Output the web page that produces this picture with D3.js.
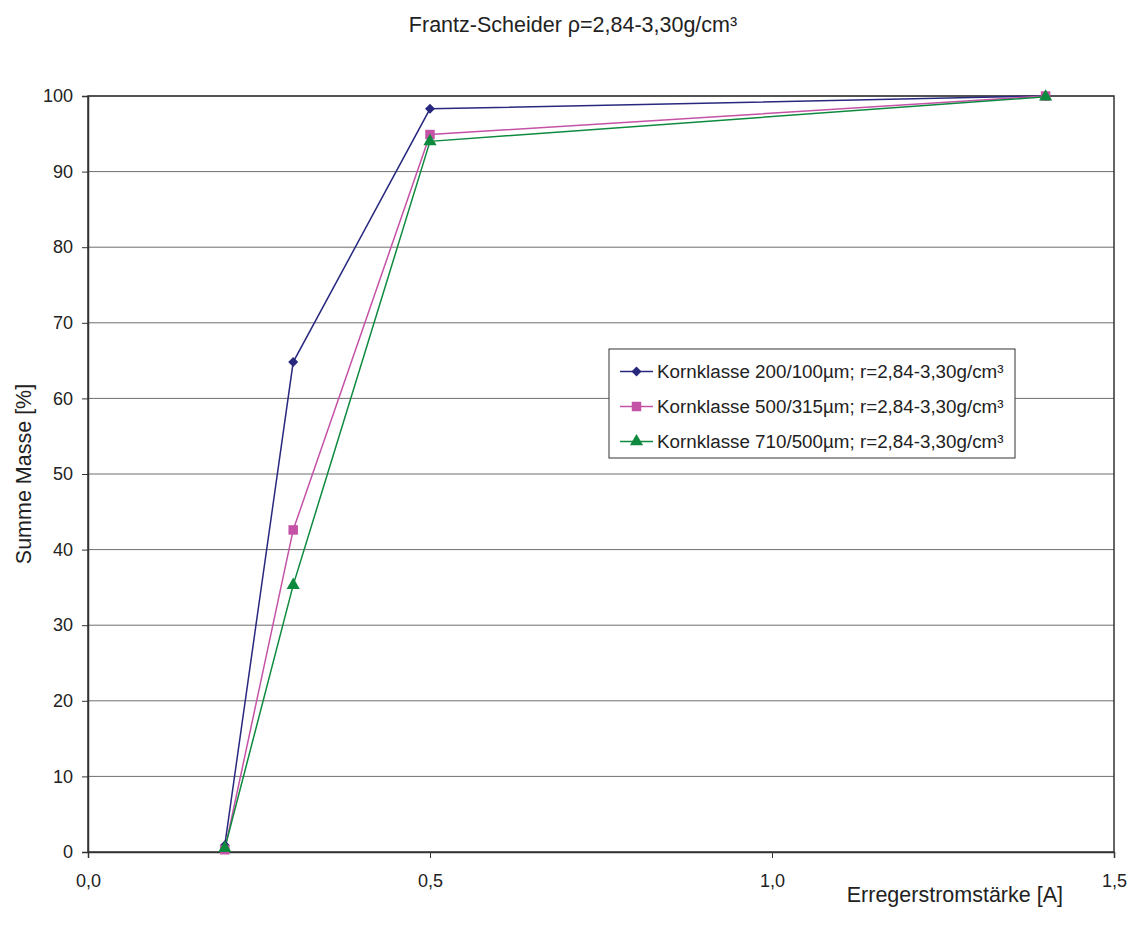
<!DOCTYPE html>
<html>
<head>
<meta charset="utf-8">
<script src="https://cdn.jsdelivr.net/npm/d3@7/dist/d3.min.js"></script>
<style>
body{margin:0;background:#fff;}
text{font-family:"Liberation Sans",Arial,sans-serif;fill:#222;}
</style>
</head>
<body>
<svg id="chart" width="1132" height="929"></svg>
<script>
const xValues = [0.2, 0.3, 0.5, 1.4];
const seriesNames = [
  "Kornklasse 200/100µm; r=2,84-3,30g/cm³",
  "Kornklasse 500/315µm; r=2,84-3,30g/cm³",
  "Kornklasse 710/500µm; r=2,84-3,30g/cm³"
];
const series1 = [0.9, 64.8, 98.3, 100];
const series2 = [0.3, 42.6, 94.9, 100];
const series3 = [0.5, 35.3, 94.0, 99.9];
const xTicks = [0, 0.5, 1.0, 1.5];
const yTicks = [0,10,20,30,40,50,60,70,80,90,100];
const colors = ["#28287f", "#c452a6", "#0e8a3f"];

const svg = d3.select("#chart");
const L = 88, R = 1114, T = 96, B = 852;
const x = d3.scaleLinear().domain([0, 1.5]).range([L, R]);
const y = d3.scaleLinear().domain([0, 100]).range([B, T]);

function marker(k) {
  if (k === 0) return { d: d3.symbol().type(d3.symbolSquare).size(50)(), rot: 45 };
  if (k === 1) return { d: d3.symbol().type(d3.symbolSquare).size(90)(), rot: 0 };
  return { d: d3.symbol().type(d3.symbolTriangle).size(75)(), rot: 0 };
}

// gridlines
svg.append("g").selectAll("line").data(yTicks.filter(d => d > 0)).join("line")
  .attr("x1", L).attr("x2", R).attr("y1", d => y(d)).attr("y2", d => y(d))
  .attr("stroke", "#6e6e6e").attr("stroke-width", 1);

// frame
svg.append("rect").attr("x", L).attr("y", T).attr("width", R - L).attr("height", B - T)
  .attr("fill", "none").attr("stroke", "#333").attr("stroke-width", 1.5);

const fmt = d => d3.format(".1f")(d).replace(".", ",");

const xAxis = svg.append("g").attr("transform", `translate(0,${B})`)
  .call(d3.axisBottom(x).tickValues(xTicks).tickFormat(fmt).tickSize(6).tickPadding(16));
const yAxis = svg.append("g").attr("transform", `translate(${L},0)`)
  .call(d3.axisLeft(y).tickValues(yTicks).tickSize(6).tickPadding(9));
[xAxis, yAxis].forEach(a => {
  a.select(".domain").attr("stroke", "#333").attr("stroke-width", 1.5);
  a.selectAll(".tick line").attr("stroke", "#333");
  a.selectAll("text").style("font-family", '"Liberation Sans",Arial,sans-serif').style("font-size", "18px").attr("fill", "#222");
});

// series
const allSeries = [series1, series2, series3];
const line = d3.line().x((d, i) => x(xValues[i])).y(d => y(d));
allSeries.forEach((s, k) => {
  svg.append("path").datum(s).attr("d", line).attr("fill", "none")
    .attr("stroke", colors[k]).attr("stroke-width", 1.5);
});
allSeries.forEach((s, k) => {
  const m = marker(k);
  svg.append("g").selectAll("path").data(s).join("path")
    .attr("transform", (d, i) => `translate(${x(xValues[i])},${y(d)}) rotate(${m.rot})`)
    .attr("d", m.d)
    .attr("fill", colors[k]);
});

// legend
const lg = svg.append("g");
lg.append("rect").attr("x", 609).attr("y", 349).attr("width", 406).attr("height", 109)
  .attr("fill", "#fff").attr("stroke", "#333").attr("stroke-width", 1);
seriesNames.forEach((n, k) => {
  const ly = 371.5 + k * 35;
  lg.append("line").attr("x1", 620).attr("x2", 653).attr("y1", ly).attr("y2", ly)
    .attr("stroke", colors[k]).attr("stroke-width", 1.5);
  const m = marker(k);
  lg.append("path").attr("transform", `translate(636.5,${ly}) rotate(${m.rot})`)
    .attr("d", m.d).attr("fill", colors[k]);
  lg.append("text").attr("x", 657).attr("y", ly + 6.5).style("font-size", "18.8px").text(n);
});

// titles
svg.append("text").attr("x", 573).attr("y", 32).attr("text-anchor", "middle")
  .style("font-size", "21.5px").text("Frantz-Scheider ρ=2,84-3,30g/cm³");
svg.append("text").attr("x", 1063).attr("y", 902).attr("text-anchor", "end")
  .style("font-size", "21.5px").text("Erregerstromstärke [A]");
svg.append("text").attr("transform", "translate(31,474) rotate(-90)").attr("text-anchor", "middle")
  .style("font-size", "21.5px").text("Summe Masse [%]");
</script>
</body>
</html>
